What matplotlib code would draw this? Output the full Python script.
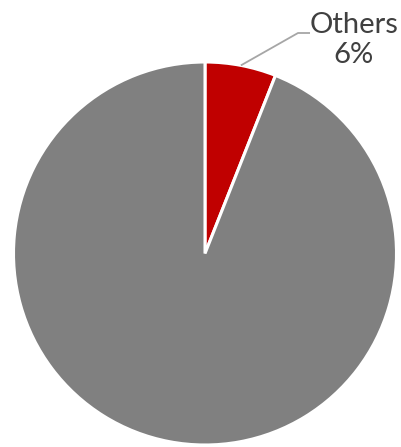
import matplotlib
matplotlib.use("Agg")
import matplotlib.pyplot as plt
import numpy as np

labels = ["Others", ""]
shares = [6, 94]
colors = ["#c00000", "#808080"]

W, H = 402, 447
cx, cy, r = 205, 253.5, 191.5  # pie centre and radius in pixels

fig = plt.figure(figsize=(W / 100, H / 100), dpi=100)
ax = fig.add_axes([0, 0, 1, 1])

ax.pie(shares, colors=colors, startangle=90, counterclock=False, radius=1,
       wedgeprops={"edgecolor": "white", "linewidth": 2.2})
ax.set_xlim(-cx / r, (W - cx) / r)
ax.set_ylim(-(H - cy) / r, cy / r)
ax.set_aspect("equal")
ax.axis("off")

# leader line from the middle of the small slice to the label
mid = np.deg2rad(90 - shares[0] / sum(shares) * 180)
p0 = (np.cos(mid), np.sin(mid))
elbow = ((298 - cx) / r, (cy - 33) / r)
end = ((310 - cx) / r, (cy - 33) / r)
ax.plot([p0[0], elbow[0], end[0]], [p0[1], elbow[1], end[1]],
        color="#a6a6a6", lw=1.3, solid_capstyle="butt")

ax.text((354 - cx) / r, (cy - 40) / r, f"{labels[0]}\n{shares[0]}%",
        ha="center", va="center", fontsize=21, color="#404040",
        family="Lato", linespacing=1.2)

fig.savefig("out.png", dpi=100)
